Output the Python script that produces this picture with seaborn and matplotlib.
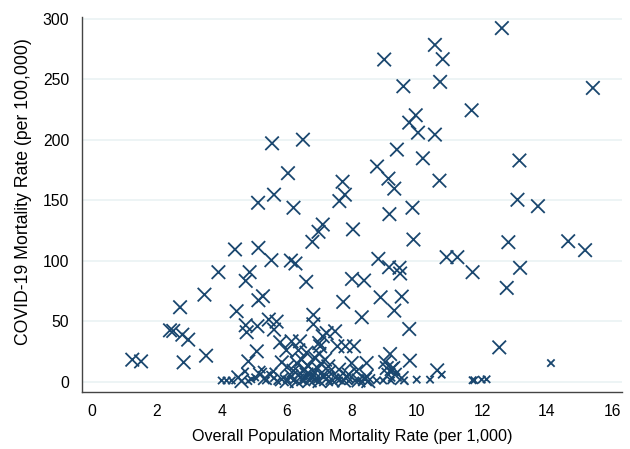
import pandas as pd
import matplotlib
matplotlib.use('Agg')
import matplotlib.pyplot as plt
import seaborn as sns

# points
# large markers
big_x = [12.61, 10.55, 10.79, 8.99, 9.58, 10.71, 15.41, 11.68, 9.96, 9.76, 10.03, 10.55, 9.38, 10.18,
         13.15, 8.77, 9.12, 9.30, 10.69, 7.71, 7.78, 13.09, 5.54, 6.49, 6.03, 5.60,
         5.11, 6.20, 7.61, 7.10, 6.97, 8.03, 6.78, 4.40, 5.12, 5.52, 6.12, 6.26, 3.89, 4.85,
         4.73, 6.59, 8.00, 3.46, 5.26, 5.12, 7.73, 2.71, 4.45, 5.44, 5.68, 6.81, 6.81, 8.30,
         4.73, 5.09, 5.60, 2.40, 2.50, 2.78, 2.96, 4.76, 7.22, 7.48, 7.10, 5.79, 6.14, 6.40,
         6.99, 7.02, 7.55, 7.80, 8.06, 5.98, 5.07, 1.24, 1.51, 2.82, 3.51, 4.81, 5.84, 6.30,
         7.17, 7.99,
         13.72, 9.15, 9.86, 9.89, 12.81, 14.65, 15.17, 8.81, 10.91, 11.24, 9.14, 9.46, 9.48,
         11.71, 13.17, 8.37, 12.76, 8.88, 9.53, 9.30, 9.76, 12.53, 9.17, 8.45, 9.02, 9.78,
         9.22, 10.62,
         4.50, 4.60, 5.17, 5.32, 5.84, 5.99, 6.14, 6.30, 6.45, 7.27, 8.14, 7.58, 7.84, 8.45,
         9.07, 9.27, 9.12, 9.32, 9.53,
         6.50, 6.60, 6.70, 6.80, 6.90, 7.00, 7.10, 7.20, 7.30, 7.40, 6.55, 6.65, 6.75, 6.95,
         7.05, 6.40, 6.20, 6.00, 7.60, 7.90, 8.20, 8.40, 8.50, 7.75, 6.85, 7.00, 6.60, 6.35]
big_y = [292.5, 278.6, 266.8, 266.5, 244.4, 248.0, 243.0, 224.5, 220.4, 214.3, 206.0, 204.4, 192.0, 184.8,
         183.0, 178.0, 168.0, 159.7, 166.3, 165.4, 154.7, 150.5, 197.2, 200.2, 172.5, 154.7,
         148.0, 143.9, 149.4, 130.0, 124.0, 126.0, 115.7, 109.4, 110.7, 100.5, 100.2, 97.8, 90.6, 90.6,
         83.4, 82.6, 85.0, 72.0, 70.7, 67.4, 66.0, 61.6, 58.3, 51.4, 49.7, 55.3, 47.5, 53.3,
         46.7, 45.9, 43.1, 42.5, 42.0, 38.9, 34.8, 40.9, 40.2, 41.7, 37.6, 32.6, 33.4, 33.4,
         32.0, 29.3, 29.3, 29.3, 29.3, 26.0, 25.1, 18.2, 16.8, 16.0, 21.5, 16.8, 16.0, 15.4,
         18.2, 15.4,
         145.2, 138.6, 143.9, 117.6, 115.4, 116.2, 108.8, 101.6, 103.0, 103.0, 94.7, 94.2, 89.5,
         90.6, 94.2, 83.7, 77.6, 69.8, 70.4, 58.8, 43.6, 28.4, 22.9, 15.4, 16.3, 17.4,
         10.4, 9.4,
         3.6, 0.5, 5.8, 3.0, 2.0, 0.5, 4.4, 0.5, 18.2, 12.7, 8.5, 3.0, 4.4, 4.4,
         11.3, 11.3, 5.8, 5.8, 3.0,
         2.0, 6.0, 1.0, 9.0, 3.0, 0.5, 5.0, 2.0, 8.0, 1.0, 10.0, 13.0, 4.0, 11.0,
         15.0, 7.0, 9.0, 12.0, 10.0, 6.0, 1.0, 2.0, 0.5, 1.0, 20.0, 23.0, 24.0, 26.0]

# small markers
small_x = [3.99, 4.14, 4.30, 4.81, 5.02, 5.22, 4.71, 5.48, 5.58, 5.70, 6.00, 6.20, 6.50, 6.90,
           7.30, 7.60, 7.90, 8.10, 8.30, 8.76, 8.96, 9.20, 9.60, 9.99, 10.40, 10.76, 11.71, 11.76,
           11.99, 12.14, 14.12, 4.90, 5.35, 5.60]
small_y = [1.0, 1.0, 1.0, 0.5, 3.6, 10.0, 8.5, 5.8, 8.5, 0.5, 2.0, 1.0, 0.5, 1.0,
           0.5, 1.0, 0.5, 1.0, 0.5, 1.0, 1.0, 1.0, 1.0, 1.7, 1.7, 5.8, 1.2, 1.2,
           1.7, 2.0, 15.4, 2.0, 1.0, 3.0]

df = pd.DataFrame({
    'pop_rate': big_x + small_x,
    'covid_rate': big_y + small_y,
    'group': ['big'] * len(big_x) + ['small'] * len(small_x),
})

navy = '#1a476f'

sns.set_style('white')
plt.rcParams['font.family'] = ['Liberation Sans', 'DejaVu Sans']

fig = plt.figure(figsize=(6.3, 4.49), dpi=100)
ax = fig.add_axes([0.130, 0.127, 0.857, 0.836])

ax.set_yticks([0, 50, 100, 150, 200, 250, 300])
ax.set_xticks(range(0, 17, 2))
ax.yaxis.grid(True, color='#eaf2f3', linewidth=1.2)
ax.set_axisbelow(True)

sns.scatterplot(data=df, x='pop_rate', y='covid_rate', size='group',
                sizes={'big': 95, 'small': 28}, marker='x', color=navy,
                linewidth=1.3, legend=False, ax=ax)

ax.set_xlim(-0.31, 16.3)
ax.set_ylim(-8.5, 302)

for side in ['top', 'right']:
    ax.spines[side].set_visible(False)
for side in ['left', 'bottom']:
    ax.spines[side].set_color('#444444')
    ax.spines[side].set_linewidth(1.0)
ax.tick_params(axis='both', direction='out', length=5, width=1.0, color='#444444',
               labelsize=11.3, labelcolor='black', pad=4)
ax.set_yticklabels(['0', '50', '100', '150', '200', '250', '300'], rotation=0)

ax.set_xlabel('Overall Population Mortality Rate (per 1,000)', fontsize=11.6, color='black')
ax.set_ylabel('COVID-19 Mortality Rate (per 100,000)', fontsize=12.7, color='black')
ax.xaxis.set_label_coords(0.5, -0.098)
ax.yaxis.set_label_coords(-0.092, 0.535)

plt.savefig('out.png', dpi=100)
